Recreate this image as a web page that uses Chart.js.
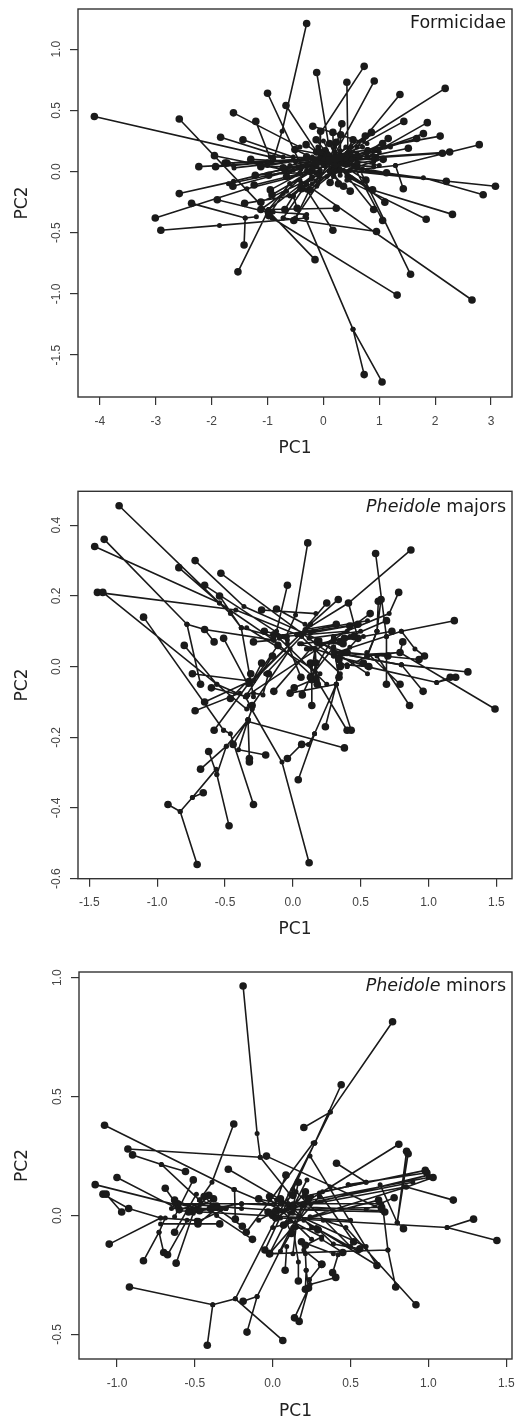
<!DOCTYPE html>
<html>
<head>
<meta charset="utf-8">
<title>PC1 vs PC2</title>
<script src="https://cdn.jsdelivr.net/npm/chart.js@4"></script>
<style>
  html, body { margin: 0; padding: 0; background: #fff; }
  body { position: relative; width: 517px; height: 1422px; overflow: hidden; }
  canvas { position: absolute; left: 0; }
</style>
</head>
<body>
<canvas id="formicidae" width="517" height="470" style="top:0"></canvas>
<canvas id="majors" width="517" height="470" style="top:480px"></canvas>
<canvas id="minors" width="517" height="462" style="top:960px"></canvas>
<script>
// Each branch starts at a tip (big dot) and runs through inner nodes (small dots), null ends it
const formicidaeX = [
  -4.10,-.95,null, -2.58,-.98,null, -1.61,-.42,null, -1.21,-.92,null, -1.84,-.72,null, -1.44,-.54,null,
  -1.00,-.39,null, -.67,-.06,null, -.30,-.74,-.89,null, -.12,.09,null, .42,.44,null, .73,-.03,null,
  .91,.18,null, 1.37,.42,null, 2.18,.72,null, 1.44,.60,null, 1.86,.78,null, 1.79,.60,null,
  2.09,.78,null, 2.79,1.29,.30,null, 2.26,.95,null, 2.13,.48,null, 3.08,.36,null, 2.86,1.79,.48,null,
  2.20,.78,null, 2.31,.88,.42,null, 1.84,.42,null, 2.66,-.42,null, 1.56,.54,null, 1.32,-.92,null,
  1.05,.53,-.33,null, .73,.53,null, -.15,-.95,null, -1.53,-.98,-.21,null, -1.42,-1.40,-1.20,null,
  -2.91,-1.86,-.30,null, .95,-.72,null, -3.01,-1.37,-.06,null, -2.36,-1.40,null, -2.58,-1.61,.18,null,
  -1.90,-1.01,null, .17,-.30,null, .23,-.98,null, .90,.18,null, 1.06,.42,null, 1.10,.42,null,
  -2.23,-1.01,null, -1.93,-1.61,.06,null, -1.73,-.06,null, -1.95,-.66,null, 1.52,.78,null, 1.67,.78,null,
  1.43,1.29,null, 1.16,.66,null, -.19,.78,null, -.05,-.06,null, .33,.18,null, .86,.18,null,
  .17,.18,null, .31,.30,null, -.13,.12,null, .53,.36,null, .75,.30,null, -.31,.06,null, -.51,0,null,
  .11,.24,null, .23,.18,null, 1.06,.30,null, .94,.18,null, 1.07,.18,null, -1.30,-.06,null, -1.12,-.12,null,
  -1.62,-.54,null, -1.24,-.18,null, -1.22,-.42,null, -.95,-.30,null, -.92,-.24,null, -1.41,-.60,-.06,null,
  -1.12,-.66,null, -.69,-.54,null, -.47,-.54,-.42,-.06,null, -.53,-.12,.18,null, -.98,-.72,-.24,null,
  -.66,-.12,null, -.72,-.12,null, -.39,.06,null, -.24,.12,null, .12,.24,null, .27,.18,null, .36,.12,null,
  .48,.18,null, .76,.48,null, .88,.42,null, 1.13,.54,null, .05,.20,null, -.30,.10,null, -.12,.16,null,
  .03,.20,null, .18,.05,null, .36,.10,null, .50,.15,null, .22,.08,null, .42,.12,null, .60,.08,null,
  -.06,.12,null, .06,.16,null, .12,.02,null, -1.76,-1.00,null, -.98,-.40,null, -1.12,-.10,null
];
const formicidaeY = [
  .45,.12,null, .43,-.34,null, .48,.20,null, .41,.07,null, .28,.12,null, .26,.12,null,
  .64,.04,null, .54,.12,null, 1.21,.33,.10,null, .81,.23,null, .73,.12,null, .86,.33,null,
  .74,.12,null, .63,.10,null, .68,.26,null, .41,.20,null, .40,.12,null, .31,.12,null,
  .29,.18,null, .22,.05,0,null, .16,.12,null, .15,.10,null, -.12,.01,null, -.19,-.05,.01,null,
  -.08,.01,null, -.35,-.15,-.04,null, -.39,-.07,null, -1.05,-.07,null, -.84,.12,null, -1.01,-.38,null,
  -1.72,-1.29,-.37,null, -1.66,-1.29,null, -.72,-.34,null, -.82,-.31,-.04,null, -.60,-.38,-.37,null,
  -.48,-.44,-.38,null, -.49,-.38,null, -.38,-.14,.01,null, -.26,-.38,null, -.18,-.08,.12,null,
  -.23,-.33,null, -.48,-.15,null, -.30,-.31,null, -.31,.10,null, -.40,.15,null, -.25,-.01,null,
  .04,.07,null, .04,.05,.12,null, .07,.10,null, .13,.01,null, .19,.12,null, .27,.15,null,
  -.14,.05,null, .27,.12,null, .37,.23,null, .33,.12,null, .39,.12,null, .32,.12,null,
  .32,.12,null, .30,.12,null, .26,.12,null, .26,.12,null, .29,.10,null, .22,.10,null, .18,.07,null,
  .23,.10,null, .24,.07,null, .23,.07,null, .11,.07,null, .10,.04,null, .10,.07,null, .04,.04,null,
  -.12,.01,null, -.11,.01,null, -.03,-.01,null, -.15,.01,null, -.19,-.01,null, -.26,-.20,-.01,null,
  -.31,-.16,null, -.31,-.20,null, -.30,-.20,-.12,.01,null, -.40,-.12,-.01,null, -.36,-.18,.01,null,
  -.04,-.01,null, .03,.04,null, -.14,-.04,null, -.15,-.01,null, -.09,.01,null, -.10,.01,null, -.12,.01,null,
  -.16,-.04,null, -.07,.01,null, -.15,-.01,null, -.01,.04,null, .12,.10,null, .12,.08,null, .16,.10,null,
  .17,.10,null, .01,.08,null, .07,.12,null, .10,.11,null, .03,.08,null, .09,.12,null, .05,.07,null,
  .16,.10,null, .14,.08,null, .10,.07,null, .07,.08,null, -.03,.02,null, -.25,-.03,null
];
// branches between inner nodes only
const formicidaeInnerX = [
  -1.7,.9,null, -1.6,1.0,null, -1.0,1.1,null, -.7,1.2,null, -1.2,.9,null, -1.7,.4,null, -.9,.9,null,
  -.5,1.0,null, -.6,.8,null, -.4,.9,null, -.3,.7,null, -.1,.5,null, 0,.3,null, .2,-.1,null, .5,-.3,null,
  -.6,.3,null, -.2,.4,null, .9,-.5,null, .7,-.6,null, .2,.3,null, .6,.1,null, .1,-.3,null, -.2,.5,null,
  .4,-.2,null, 0,.5,null, 0,.6,null, -.98,-.6,null, -.9,-.3,null, -.72,-.3,null, -.5,-.25,null, -.54,-.2,null
];
const formicidaeInnerY = [
  .07,.13,null, .03,.16,null, .05,.20,null, 0,.20,null, -.03,.17,null, -.10,.10,null, .12,.10,null,
  .18,.05,null, .05,.18,null, -.10,.08,null, .10,.02,null, .20,-.05,null, .25,-.03,null, .20,-.10,null, .20,-.15,null,
  -.10,.17,null, -.10,.20,null, .04,.08,null, .20,0,null, .16,.02,null, .15,0,null, .14,.05,null, .12,.10,null,
  .05,.03,null, .10,.14,null, .05,.07,null, -.31,-.10,null, -.33,-.35,null, -.38,-.10,null, -.38,-.15,null, -.20,-.05,null
];

const majorsX = [
  -1.28,-.46,-.38,null, -1.46,-.54,-.14,null, -1.39,-.78,null, -.58,-.65,-.78,null, -.68,-.78,null, -.65,-.14,null,
  -1.44,-.42,.065,null, -1.40,-.56,-.35,null, -1.10,-.51,null, -.84,-.54,-.14,null, -.72,-.36,.20,null,
  -.53,.40,null, -.65,-.07,null, -.54,-.38,-.29,null, .11,.02,-.05,null, -.04,-.12,null, -.23,.17,null,
  -.12,.09,null, .25,.05,null, .335,.13,null, .61,.69,null, .69,.69,null, .87,.41,.03,null, .41,.48,.42,null,
  .78,.71,.30,null, .57,.30,null, .63,.62,.545,null, .65,.62,null, 1.19,.80,.32,null, .97,.90,.80,null,
  .81,.79,null, 1.29,.80,.30,null, 1.49,.79,.30,null, 1.16,1.06,.545,null, 1.20,1.06,null, .96,.80,null,
  .86,.62,null, .79,.545,null, .79,.545,null, .73,.52,null, .69,.42,null, .93,.40,null, .70,.37,null,
  .56,.40,null, .43,.32,.35,null, .40,.18,-.14,null, .24,.32,null, .38,-.33,null, .04,.16,.32,null,
  .065,.115,.16,null, -.04,.065,null, .12,-.08,-.32,null, -.20,-.40,-.33,null, -.32,-.33,null, -.32,-.33,null,
  -.44,-.33,null, -.68,-.49,-.33,null, -.62,-.56,null, -.47,-.56,-.49,null, -.66,-.74,-.565,null,
  -.92,-.83,-.74,null, -.705,-.83,null, -.29,-.46,-.51,null, -.58,-.33,null, -.72,-.39,null, -.65,-.31,null,
  -.60,-.34,null, -.74,-.33,null, -.80,-.56,-.34,null, -.51,-.33,null, -.29,-.14,null, -.46,-.33,null,
  -.31,-.33,null, -.23,-.31,null, -.15,-.34,null, -.11,-.29,null, -.18,-.22,-.29,null, -.14,.13,null,
  -.30,-.02,null, -.21,-.04,null, -.14,-.04,null, -.02,.32,null, .01,.13,null, .07,.13,.30,null,
  .14,.14,null, .06,-.04,null, .13,.165,null, .17,.165,null, .18,.165,null, .13,.14,null, .17,.14,null,
  .18,.065,null, .32,.09,null, .42,.13,null, .48,.15,null, .35,.20,null, .37,.20,null, .40,.20,null,
  .38,.20,null, .48,.30,null, .45,.30,null, .34,.30,null, .35,.30,null, .34,.30,null, .52,.30,null
];
const majorsY = [
  .455,.15,.11,null, .34,.18,.075,null, .36,.12,null, .07,.105,.12,null, -.05,.12,null, .105,.075,null,
  .21,.16,.085,null, .21,-.05,-.085,null, .14,-.18,null, .28,.18,.075,null, .30,.17,.075,null,
  .264,0,null, .23,.085,null, .20,.11,-.085,null, .35,.146,.085,null, .23,.10,null, .16,.15,null,
  .163,.12,null, .18,.09,null, .19,.12,null, .32,.085,null, -.05,.085,null, .33,.18,.09,null, .18,.08,.055,null,
  .21,.15,.085,null, .15,.075,null, .185,.10,.03,null, .19,.10,null, .13,.10,.04,null, .03,.05,.10,null,
  .07,.04,null, -.015,.005,.04,null, -.12,.04,.03,null, -.03,-.045,0,null, -.03,-.045,null, -.07,.005,null,
  -.11,.03,null, -.05,.04,null, .04,.03,null, .10,.085,null, .13,.085,null, .02,.04,null, .03,.04,null,
  0,.005,null, -.18,-.05,.04,null, -.18,-.04,.075,null, -.17,-.05,null, -.23,-.155,null, -.32,-.19,-.05,null,
  -.22,-.22,-.19,null, -.26,-.22,null, -.555,-.27,-.11,null, -.25,-.235,-.15,null, -.26,-.15,null, -.27,-.15,null,
  -.22,-.15,null, -.29,-.225,-.15,null, -.24,-.305,null, -.45,-.305,-.225,null, -.357,-.37,-.29,null,
  -.39,-.41,-.37,null, -.56,-.41,null, -.39,-.19,-.18,null, -.18,-.05,null, -.125,-.075,null, -.10,-.04,null,
  -.06,-.085,null, -.02,-.04,null, .06,-.05,-.12,null, .08,-.05,null, .07,.075,null, -.09,-.04,null,
  -.02,-.04,null, .01,-.05,null, .03,-.08,null, .06,-.04,null, -.02,-.08,-.075,null, -.07,.05,null,
  -.11,.05,null, .10,.085,null, .09,.075,null, -.075,-.05,null, -.06,-.04,null, -.08,-.03,.055,null,
  -.11,-.04,null, -.03,.065,null, -.03,.05,null, -.035,.05,null, -.05,.05,null, .01,-.04,null, .01,-.04,null,
  .07,.065,null, .12,.105,null, .115,.095,null, .12,.10,null, .07,.065,null, .065,.065,null, .04,.065,null,
  .08,.065,null, .08,.075,null, .085,.075,null, .02,.055,null, 0,.055,null, -.03,.055,null, .01,.03,null
];
const majorsInnerX = [
  -.14,.55,null, .03,.32,null, .05,.55,null, .20,.55,null, .30,.80,null, -.33,.13,null, -.33,.30,null,
  -.29,.05,null, -.20,.10,null, -.34,.20,null, -.38,-.14,null, -.07,.40,null, .12,.50,null, .05,.35,null,
  .10,.45,null, -.10,.25,null, .30,.13,null, .40,.55,null, .55,.62,null, -.35,-.30,null, -.30,-.33,null
];
const majorsInnerY = [
  .085,.13,null, .09,.12,null, .065,0,null, .07,-.02,null, .04,.005,null, -.05,.12,null, -.08,.08,null,
  -.04,.09,null, -.02,.10,null, .11,-.02,null, .11,.085,null, .085,.10,null, .08,.10,null, .09,-.02,null,
  .05,.09,null, .08,-.05,null, .085,-.03,null, 0,.03,null, .03,.10,null, -.085,-.12,null, -.12,-.15,null
];

const minorsX = [
  -.19,-.10,-.08,.11,null, -.93,-.08,null, .77,.37,.27,.13,null, .44,.27,null, .20,.37,null, -.25,-.39,-.47,null,
  -1.08,-.25,.11,null, -.90,-.715,-.47,null, -.56,-.715,null, -1.00,-.60,null, -1.14,-.62,null, -1.09,-.925,null,
  -1.07,-.97,null, -.97,-1.07,null, -.925,-.72,-.49,null, -1.05,-.72,null, -.83,-.73,-.69,null, -.70,-.73,null,
  -.675,-.55,null, -.62,-.51,null, -.63,-.49,null, -.69,-.60,null, -.51,-.63,null, -.285,.11,null, -.04,.69,null,
  -.92,-.385,-.24,.27,null, -.42,-.385,null, .065,-.24,null, -.165,-.10,.19,null, -.19,-.10,null, -.13,-.36,null,
  -.195,-.36,null, -.17,.26,null, -.24,-.245,null, -.34,-.72,null, -.48,-.36,null, .41,.60,.485,null,
  .81,.37,.13,null, .86,.80,.69,null, .87,.80,null, .98,.32,null, .99,.485,null, 1.03,.86,.24,null,
  1.16,.86,null, 1.29,1.12,.05,null, 1.44,1.12,null, .92,.47,.325,null, .79,.74,.71,null, .67,.24,null,
  .52,.30,null, .70,.13,null, .72,.13,null, .84,.80,null, .78,.60,null, .68,0,null, -.05,.27,null,
  -.02,.22,null, -.02,.74,null, .08,.09,null, .165,.165,.13,null, .21,.215,.21,null, .23,.215,null,
  .14,.23,null, .17,.23,null, .405,.24,.235,null, .385,.42,null, .315,.235,null, .315,.20,null,
  .185,.39,null, .21,.315,.11,null, .56,.39,.28,null, .45,.315,null, .29,.13,null, .12,.09,null,
  .07,.09,null, .085,.025,null, .165,.13,null, .21,.13,null, .13,.06,null, .23,.13,null, .05,.13,null,
  -.09,.05,null, -.02,.10,null, -.03,.13,null, 0,.13,null, .02,.13,null, .02,-.09,null,
  -.63,-.49,null, -.61,-.49,null, -.38,-.49,null, -.41,-.49,null, -.44,-.36,null, -.52,-.40,null,
  -.54,-.40,null, -.60,-.46,null, -.47,-.36,null, -.40,-.30,null, -.48,-.30,null, -.36,-.20,null
];
const minorsY = [
  .965,.345,.245,.09,null, .28,.245,null, .815,.435,.305,.11,null, .55,.305,null, .37,.435,null, .385,.14,.065,null,
  .38,.11,.01,null, .255,.215,.065,null, .185,.215,null, .16,.025,null, .13,.045,null, .09,.03,null,
  .09,.015,null, .015,.09,null, .03,-.01,-.02,null, -.12,-.01,null, -.19,-.07,-.01,null, -.155,-.07,null,
  -.165,-.02,null, -.20,.01,null, -.07,.09,null, .115,.03,null, .15,-.005,null, .195,.045,null, .25,.03,null,
  -.30,-.375,-.35,.305,null, -.545,-.375,null, -.525,-.35,null, -.49,-.34,.04,null, -.36,-.34,null, -.10,0,null,
  -.045,.03,null, -.07,.305,null, -.015,.11,null, -.035,-.035,null, -.035,.03,null, .22,.14,.13,null,
  .30,.12,.025,null, .27,-.03,.13,null, .26,-.03,null, .19,.10,null, .18,.13,null, .16,.12,-.005,null,
  .065,.12,null, -.015,-.05,-.01,null, -.105,-.05,null, -.375,-.05,-.02,null, -.30,-.145,.02,null, -.21,.25,null,
  -.11,.095,null, .035,.025,null, .015,.025,null, -.055,-.03,null, .075,.025,null, .065,-.05,null, -.145,.305,null,
  -.16,.15,null, -.16,-.145,null, -.23,-.13,null, -.275,-.195,-.05,null, -.31,-.23,-.16,null, -.305,-.23,null,
  -.43,-.305,null, -.445,-.305,null, -.26,-.29,-.27,null, -.24,-.165,null, -.205,-.27,null, -.205,-.145,null,
  -.11,-.16,null, -.125,-.09,-.02,null, -.14,-.12,-.05,null, -.155,-.10,null, -.06,-.05,null, -.075,-.03,null,
  -.04,-.03,null, .17,.065,null, .14,.035,null, .10,.035,null, .085,.05,null, .07,.035,null, .07,.035,null,
  .07,.05,null, .08,.045,null, .015,.035,null, 0,.035,null, -.01,.035,null, .02,-.02,null,
  .065,.03,null, .05,.03,null, .07,.03,null, .085,.03,null, .08,.03,null, .02,.03,null,
  .015,.03,null, .025,.05,null, .02,.03,null, .03,.03,null, -.025,.03,null, .04,.03,null
];
const minorsInnerX = [
  -.65,-.30,null, -.60,.05,null, -.50,-.20,null, -.47,-.33,null, -.63,.10,null, -.60,.50,null, -.20,.70,null,
  .05,1.00,null, .13,1.00,null, .20,.90,null, .10,.85,null, .20,.60,null, .05,.70,null, .13,.60,null,
  .15,.50,null, .20,.67,null, .30,.55,null, -.02,.25,null, .05,.25,null, -.02,.30,null, .13,.20,null,
  .13,.15,null, .10,.25,null
];
const minorsInnerY = [
  .03,.03,null, .05,.02,null, .02,.05,null, .065,.03,null, .05,.05,null, .02,-.02,null, .05,.02,null,
  .02,.17,null, .05,.16,null, .05,.14,null, .03,.12,null, .08,.14,null, .05,.05,null, .01,-.13,null,
  .10,-.13,null, -.02,-.21,null, -.06,-.15,null, .07,-.10,null, -.15,.08,null, -.16,.08,null, -.07,.05,null,
  -.16,-.05,null, .05,-.05,null
];

const formicidaeXTicks = [-4, -3, -2, -1, 0, 1, 2, 3];
const formicidaeYTicks = [-1.5, -1, -0.5, 0, 0.5, 1];
const majorsXTicks = [-1.5, -1, -0.5, 0, 0.5, 1, 1.5];
const majorsYTicks = [-0.6, -0.4, -0.2, 0, 0.2, 0.4];
const minorsXTicks = [-1, -0.5, 0, 0.5, 1, 1.5];
const minorsYTicks = [-0.5, 0, 0.5, 1];

const INK = '#1a1a1a';
const LINE_W = 1.6;
const TIP_R = 3.8;
const NODE_R = 2.5;

function branchPoints(xs, ys) {
    return xs.map((x, i) => ({ x: x, y: ys[i] }));
}

function dotSizes(xs) {
    return xs.map((x, i) => {
        if (x === null) return 0;
        return (i === 0 || xs[i - 1] === null) ? TIP_R : NODE_R;
    });
}

// box round the plot plus the name in the top right corner
const panelDecor = {
    id: 'panelDecor',
    afterDraw(chart, args, opts) {
        const { ctx, chartArea: a } = chart;
        ctx.save();
        ctx.strokeStyle = '#333';
        ctx.lineWidth = 1.4;
        ctx.strokeRect(a.left, a.top, a.right - a.left, a.bottom - a.top);
        ctx.fillStyle = INK;
        ctx.textBaseline = 'middle';
        ctx.textAlign = 'left';
        const plain = '17.5px "DejaVu Sans"';
        const italic = 'oblique 17.5px "DejaVu Sans"';
        ctx.font = plain;
        const plainW = ctx.measureText(opts.plain).width;
        ctx.font = italic;
        const italicW = opts.italic ? ctx.measureText(opts.italic).width : 0;
        const y = a.top + opts.dy;
        const x = a.right - 6 - plainW - italicW;
        if (opts.italic) ctx.fillText(opts.italic, x, y);
        ctx.font = plain;
        ctx.fillText(opts.plain, x + italicW, y);
        ctx.restore();
    }
};

function makePanel(id, series, xTicks, yTicks, box, name) {
    const tickStyle = { color: '#444', font: { family: '"Liberation Sans"', size: 12 } };
    return new Chart(document.getElementById(id), {
        type: 'scatter',
        data: {
            datasets: [{
                data: branchPoints(series.innerX, series.innerY),
                showLine: true,
                spanGaps: false,
                borderColor: INK,
                borderWidth: LINE_W,
                pointRadius: series.innerX.map(x => (x === null ? 0 : NODE_R)),
                pointBackgroundColor: INK,
                pointBorderWidth: 0
            }, {
                data: branchPoints(series.x, series.y),
                showLine: true,
                spanGaps: false,
                borderColor: INK,
                borderWidth: LINE_W,
                pointRadius: dotSizes(series.x),
                pointBackgroundColor: INK,
                pointBorderWidth: 0
            }]
        },
        plugins: [panelDecor],
        options: {
            responsive: false,
            animation: false,
            devicePixelRatio: 1,
            layout: { padding: { top: box.top, right: 5, bottom: 0, left: 0 } },
            plugins: {
                legend: { display: false },
                tooltip: { enabled: false },
                panelDecor: name
            },
            scales: {
                x: {
                    min: box.xMin,
                    max: box.xMax,
                    afterBuildTicks: (s) => { s.ticks = xTicks.map(v => ({ value: v })); },
                    afterFit: (s) => { s.height = box.xAxis; s.paddingLeft = 0; s.paddingRight = 0; },
                    grid: { drawOnChartArea: false, tickLength: 8, color: '#333', lineWidth: 1.2 },
                    border: { display: false },
                    ticks: Object.assign({
                        autoSkip: false, maxRotation: 0, padding: 9,
                        callback: (v) => v.toFixed(box.xDigits)
                    }, tickStyle),
                    title: {
                        display: true, text: 'PC1', color: '#222',
                        font: { family: '"DejaVu Sans"', size: 17 },
                        padding: { top: 0, bottom: box.xTitle }
                    }
                },
                y: {
                    min: box.yMin,
                    max: box.yMax,
                    afterBuildTicks: (s) => { s.ticks = yTicks.map(v => ({ value: v })); },
                    afterFit: (s) => { s.width = box.left; s.paddingTop = 0; s.paddingBottom = 0; },
                    grid: { drawOnChartArea: false, tickLength: 8, color: '#333', lineWidth: 1.2 },
                    border: { display: false },
                    ticks: Object.assign({
                        autoSkip: false, minRotation: 90, maxRotation: 90, padding: 3,
                        crossAlign: 'center',
                        callback: (v) => v.toFixed(1)
                    }, tickStyle),
                    title: {
                        display: true, text: 'PC2', color: '#222',
                        font: { family: '"DejaVu Sans"', size: 17 },
                        padding: { top: 12, bottom: 0 }
                    }
                }
            }
        }
    });
}

makePanel('formicidae',
    { x: formicidaeX, y: formicidaeY, innerX: formicidaeInnerX, innerY: formicidaeInnerY },
    formicidaeXTicks, formicidaeYTicks,
    { top: 9, left: 78, xAxis: 73, xTitle: 10.8, xDigits: 0, xMin: -4.393, xMax: 3.376, yMin: -1.843, yMax: 1.329 },
    { plain: 'Formicidae', italic: '', dy: 14 });

makePanel('majors',
    { x: majorsX, y: majorsY, innerX: majorsInnerX, innerY: majorsInnerY },
    majorsXTicks, majorsYTicks,
    { top: 11.3, left: 78, xAxis: 71.3, xTitle: 9.8, xDigits: 1, xMin: -1.583, xMax: 1.615, yMin: -0.6, yMax: 0.496 },
    { plain: ' majors', italic: 'Pheidole', dy: 16 });

makePanel('minors',
    { x: minorsX, y: minorsY, innerX: minorsInnerX, innerY: minorsInnerY },
    minorsXTicks, minorsYTicks,
    { top: 12, left: 79, xAxis: 63, xTitle: 0, xDigits: 1, xMin: -1.244, xMax: 1.537, yMin: -0.603, yMax: 1.024 },
    { plain: ' minors', italic: 'Pheidole', dy: 14 });
</script>
</body>
</html>
